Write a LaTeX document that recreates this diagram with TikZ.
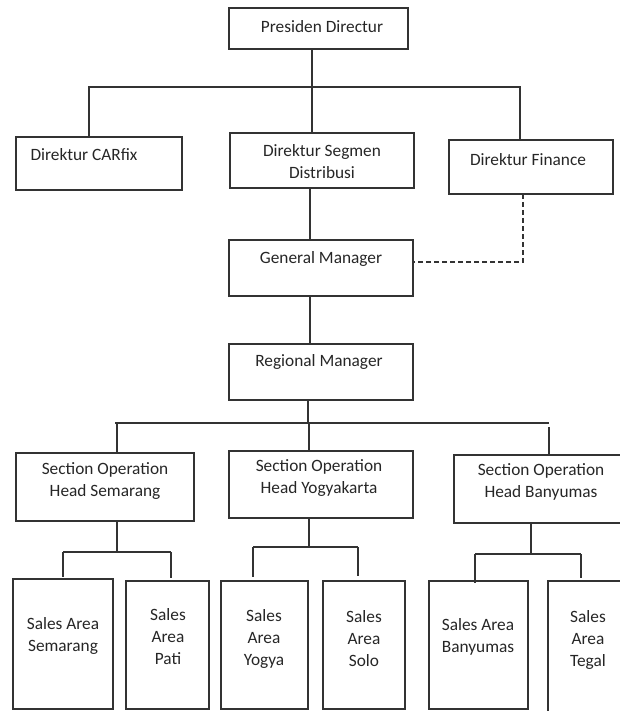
\documentclass[tikz,border=0pt]{standalone}
\usepackage{fontspec}
\setmainfont{Carlito}
\begin{document}
\begin{tikzpicture}[x=1pt,y=-1pt,
  box/.style={draw=black!80, line width=1.2pt, rectangle, inner sep=0pt, outer sep=0pt},
  txt/.style={font=\fontsize{17.3}{22}\selectfont, text=black!85, align=center, inner sep=0pt},
  conn/.style={draw=black!80, line width=1.2pt},
  dashconn/.style={conn, dash pattern=on 5pt off 3pt}]
\useasboundingbox (0,0) rectangle (620,711);
\clip (0,0) rectangle (620,711);
\newcommand\bx[5]{\node[box, minimum width={(#4-#2)*1pt}, minimum height={(#5-#3)*1pt}] (#1) at ({(#2+#4)/2},{(#3+#5)/2}) {};}
% boxes
\bx{pres}{229}{8}{408}{49}
\bx{carfix}{16}{137}{182}{190}
\bx{segmen}{230}{133}{414}{188}
\bx{finance}{449}{140}{613}{194}
\bx{gm}{229}{240}{413}{296}
\bx{rm}{229}{344}{413}{400}
\bx{sohsmg}{16}{453}{194}{521}
\bx{sohygy}{229}{451}{413}{518}
\bx{sohbms}{454}{455}{640}{523}
\bx{sasmg}{13}{579}{113}{709}
\bx{sapati}{126}{581}{209}{709}
\bx{saygy}{221}{581}{308}{709}
\bx{sasolo}{323}{581}{405}{709}
\bx{sabms}{429}{581}{528}{709}
\bx{sategal}{548}{581}{640}{714}
% texts
\node[txt] (pres-t) at (322,27) {Presiden Directur};
\node[txt] (carfix-t) at (84,155) {Direktur CARfix};
\node[txt] (segmen-t) at (322,162) {Direktur Segmen\\Distribusi};
\node[txt] (finance-t) at (528,160) {Direktur Finance};
\node[txt] (gm-t) at (321,259) {General Manager};
\node[txt] (rm-t) at (319,362) {Regional Manager};
\node[txt] (sohsmg-t) at (105,481) {Section Operation\\Head Semarang};
\node[txt] (sohygy-t) at (319,478) {Section Operation\\Head Yogyakarta};
\node[txt] (sohbms-t) at (541,482) {Section Operation\\Head Banyumas};
\node[txt] (sasmg-t) at (63,636) {Sales Area\\Semarang};
\node[txt] (sapati-t) at (168,637) {Sales\\Area\\Pati};
\node[txt] (saygy-t) at (264,639) {Sales\\Area\\Yogya};
\node[txt] (sasolo-t) at (364,639) {Sales\\Area\\Solo};
\node[txt] (sabms-t) at (478,637) {Sales Area\\Banyumas};
\node[txt] (sategal-t) at (588,640) {Sales\\Area\\Tegal};
% top level connectors
\coordinate (t1) at (312,87);
\coordinate (t1l) at (89,87);
\coordinate (t1r) at (520,87);
\draw[conn] (pres.south -| t1) -- (segmen.north -| t1);
\draw[conn] (carfix.north -| t1l) -- (t1l) -- (t1r) -- (finance.north -| t1r);
\coordinate (v1) at (310,210);
\draw[conn] (segmen.south -| v1) -- (gm.north -| v1);
\coordinate (d1) at (523,262);
\draw[dashconn] (finance.south -| d1) -- (d1) -- (gm.east |- d1);
\coordinate (v2) at (310,320);
\draw[conn] (gm.south -| v2) -- (rm.north -| v2);
% regional bus
\coordinate (b2) at (308,423);
\coordinate (b2l) at (115,423);
\coordinate (b2r) at (549,423);
\draw[conn] (rm.south -| b2) -- (b2);
\draw[conn] (b2l) -- (b2r);
\coordinate (d2l) at (117,423);
\coordinate (d2m) at (309,423);
\draw[conn] (d2l) -- (sohsmg.north -| d2l);
\draw[conn] (d2m) -- (sohygy.north -| d2m);
\draw[conn] ([yshift=-4pt]b2r) -- (sohbms.north -| b2r);
% Semarang children
\coordinate (c1) at (117,552);
\coordinate (c1l) at (63,552);
\coordinate (c1r) at (171,552);
\draw[conn] (sohsmg.south -| c1) -- (c1);
\draw[conn] (c1l) -- (c1r);
\draw[conn, shorten >=2pt] (c1l) -- (sasmg.north -| c1l);
\draw[conn, shorten >=3pt] (c1r) -- (sapati.north -| c1r);
% Yogyakarta children
\coordinate (c2) at (309,547);
\coordinate (c2l) at (253,547);
\coordinate (c2r) at (358,547);
\draw[conn] (sohygy.south -| c2) -- (c2);
\draw[conn] (c2l) -- (c2r);
\draw[conn, shorten >=4pt] (c2l) -- (saygy.north -| c2l);
\draw[conn, shorten >=5pt] (c2r) -- (sasolo.north -| c2r);
% Banyumas children
\coordinate (c3) at (531,554);
\coordinate (c3l) at (475,554);
\coordinate (c3r) at (581,554);
\draw[conn] (sohbms.south -| c3) -- (c3);
\draw[conn] (c3l) -- (c3r);
\draw[conn, shorten >=-2pt] (c3l) -- (sabms.north -| c3l);
\draw[conn, shorten >=3pt] (c3r) -- (sategal.north -| c3r);
\end{tikzpicture}
\end{document}
